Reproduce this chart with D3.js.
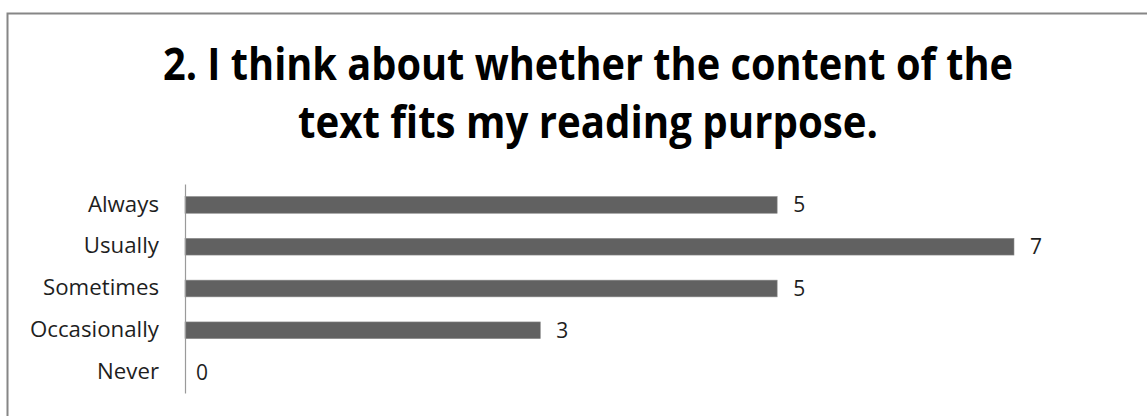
<!DOCTYPE html>
<html>
<head>
<meta charset="utf-8">
<script src="https://cdn.jsdelivr.net/npm/d3@7"></script>
<style>
  body { margin: 0; background: #fff; }
  svg { display: block; }
</style>
</head>
<body>
<svg id="chart" width="1147" height="416"></svg>
<script>
// datos del gráfico
var categories = ["Always", "Usually", "Sometimes", "Occasionally", "Never"];
var values = [5, 7, 5, 3, 0];
var titleLines = ["2. I think about whether the content of the", "text fits my reading purpose."];

var svg = d3.select("#chart");
var fontFam = "'Open Sans', 'DejaVu Sans', sans-serif";

// marco (solo se ve arriba e izquierda)
svg.append("rect")
  .attr("x", 7.5).attr("y", 13.5)
  .attr("width", 1200).attr("height", 500)
  .attr("fill", "#fff")
  .attr("stroke", "#868686")
  .attr("stroke-width", 2);

// título
var title = svg.append("g").attr("class", "title");
title.selectAll("text")
  .data(titleLines)
  .enter()
  .append("text")
  .attr("x", 588)
  .attr("y", function(d, i) { return 80 + i * 58; })
  .attr("text-anchor", "middle")
  .attr("font-family", fontFam)
  .attr("font-weight", "bold")
  .attr("font-size", 45)
  .attr("fill", "#000")
  .attr("textLength", function(d, i) { return i === 0 ? 850 : 580; })
  .attr("lengthAdjust", "spacingAndGlyphs")
  .text(function(d) { return d; });

// escalas
var x = d3.scaleLinear().domain([0, 7]).range([185, 1014]);
var y = d3.scaleBand().domain(categories).range([184, 393]).paddingInner(0.6).paddingOuter(0.3);

// barras
svg.selectAll(".bar")
  .data(values)
  .enter()
  .append("rect")
  .attr("class", "bar")
  .attr("x", x(0))
  .attr("y", function(d, i) { return y(categories[i]); })
  .attr("width", function(d) { return x(d) - x(0); })
  .attr("height", y.bandwidth())
  .attr("fill", "#616161")
  .attr("stroke", "#8c8c8c")
  .attr("stroke-width", function(d) { return d > 0 ? 0.6 : 0; });

// eje vertical
var yAxis = d3.axisLeft(y).tickSize(0).tickPadding(26);
var gAxis = svg.append("g")
  .attr("transform", "translate(" + x(0) + ",0)")
  .call(yAxis);
gAxis.select(".domain").attr("stroke", "#9a9a9a").attr("stroke-width", 1.2);
gAxis.selectAll("text")
  .attr("font-family", fontFam)
  .attr("font-size", 21)
  .attr("fill", "#1e1e1e")
  .attr("textLength", function() { return this.getComputedTextLength() * 1.06; })
  .attr("lengthAdjust", "spacingAndGlyphs");

// etiquetas de valores
svg.selectAll(".val")
  .data(values)
  .enter()
  .append("text")
  .attr("class", "val")
  .attr("x", function(d) { return x(d) + (d > 0 ? 16 : 11); })
  .attr("y", function(d, i) { return y(categories[i]) + y.bandwidth() / 2; })
  .attr("dy", "0.36em")
  .attr("font-family", fontFam)
  .attr("font-size", 21)
  .attr("fill", "#1e1e1e")
  .text(function(d) { return d; });
</script>
</body>
</html>
